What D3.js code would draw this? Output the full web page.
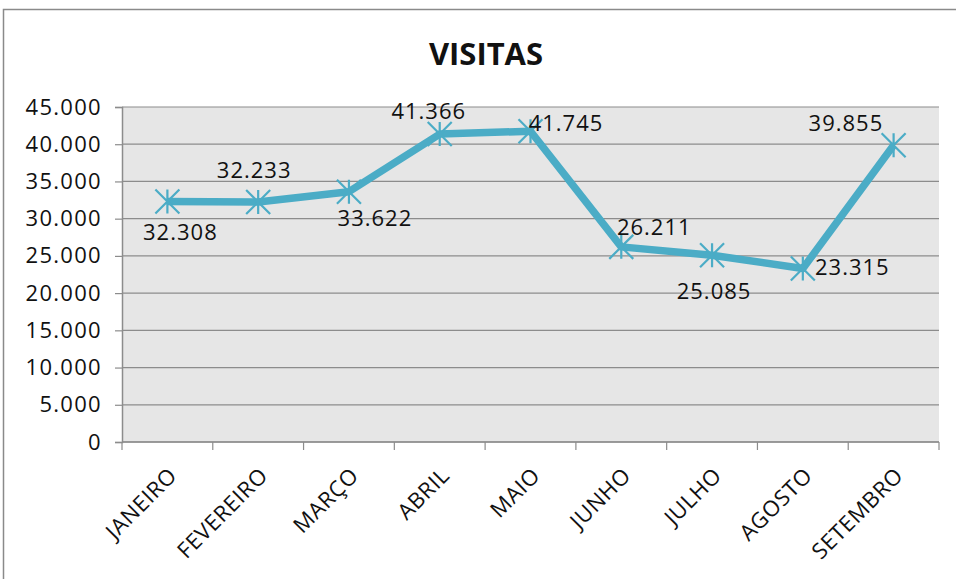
<!DOCTYPE html>
<html>
<head>
<meta charset="utf-8">
<script src="https://cdn.jsdelivr.net/npm/d3@7"></script>
<style>
  body { margin: 0; background: #fff; }
  text { font-family: "Open Sans", sans-serif; fill: #111; }
</style>
</head>
<body>
<div id="chart"></div>
<script>
// data
var months = ["JANEIRO", "FEVEREIRO", "MARÇO", "ABRIL", "MAIO", "JUNHO", "JULHO", "AGOSTO", "SETEMBRO"];
var visits = [32308, 32233, 33622, 41366, 41745, 26211, 25085, 23315, 39855];
var yTicks = [0, 5000, 10000, 15000, 20000, 25000, 30000, 35000, 40000, 45000];

// where each value label sits, relative to its point (centre of the text)
var labelOffsets = [[13, 31], [-4, -32], [26, 26], [-11, -23], [35.5, -8.5], [33, -19.5], [2, 36], [49.5, -1.7], [-47.7, -22]];

var svgWidth = 956;
var svgHeight = 579;
var margin = { top: 107, right: 17, bottom: 137, left: 122 };
var width = svgWidth - margin.left - margin.right;
var height = svgHeight - margin.top - margin.bottom;
var lineColor = "#4bacc6";

var ptBR = d3.formatLocale({ decimal: ",", thousands: ".", grouping: [3], currency: ["", ""] });
var fmt = ptBR.format(",.0f");

var svg = d3.select("#chart")
    .append("svg")
    .attr("width", svgWidth)
    .attr("height", svgHeight);

// chart area border
svg.append("rect")
    .attr("x", 3.5)
    .attr("y", 9.5)
    .attr("width", 980)
    .attr("height", 600)
    .attr("fill", "#fff")
    .attr("stroke", "#8a8a8a")
    .attr("stroke-width", 1.5);

svg.append("text")
    .attr("x", 486)
    .attr("y", 65)
    .attr("text-anchor", "middle")
    .style("font-size", "31px")
    .style("font-weight", "bold")
    .text("VISITAS");

var chartGroup = svg.append("g")
    .attr("transform", `translate(${margin.left}, ${margin.top})`);

var xScale = d3.scaleBand()
    .domain(months)
    .range([0, width])
    .padding(0);

var yScale = d3.scaleLinear()
    .domain([0, 45000])
    .range([height, 0]);

chartGroup.append("rect")
    .attr("width", width)
    .attr("height", height)
    .attr("fill", "#e6e6e6");

// gridlines
chartGroup.selectAll(".grid")
    .data(yTicks)
    .enter()
    .append("line")
    .attr("x1", 0)
    .attr("x2", width)
    .attr("y1", d => yScale(d))
    .attr("y2", d => yScale(d))
    .attr("stroke", "#8c8c8c")
    .attr("stroke-width", 1.2);

var leftAxis = d3.axisLeft(yScale)
    .tickValues(yTicks)
    .tickFormat(fmt)
    .tickSize(7)
    .tickPadding(13);

var yAxis = chartGroup.append("g").call(leftAxis);
yAxis.select(".domain").attr("stroke", "#8c8c8c").attr("stroke-width", 1.5);
yAxis.selectAll(".tick line").attr("stroke", "#8c8c8c").attr("stroke-width", 1.2);
yAxis.selectAll("text")
    .style("font-size", "22px")
    .style("letter-spacing", "1.3px")
    .style("font-family", "Open Sans, sans-serif")
    .attr("fill", "#111");

// bottom axis: ticks on the band edges
var xAxis = chartGroup.append("g")
    .attr("transform", `translate(0, ${height})`);

xAxis.append("line")
    .attr("x1", 0)
    .attr("x2", width)
    .attr("stroke", "#8c8c8c")
    .attr("stroke-width", 1.5);

var edges = months.map(d => xScale(d)).concat([width]);
xAxis.selectAll(".xtick")
    .data(edges)
    .enter()
    .append("line")
    .attr("x1", d => d)
    .attr("x2", d => d)
    .attr("y1", 0)
    .attr("y2", 8)
    .attr("stroke", "#8c8c8c")
    .attr("stroke-width", 1.2);

xAxis.selectAll(".xlabel")
    .data(months)
    .enter()
    .append("text")
    .attr("text-anchor", "end")
    .attr("transform", d => `translate(${xScale(d) + xScale.bandwidth() / 2 + 11}, 35) rotate(-45)`)
    .style("font-size", "22px")
    .style("letter-spacing", "0.6px")
    .text(d => d);

var cx = (d, i) => xScale(months[i]) + xScale.bandwidth() / 2;

var line = d3.line()
    .x((d, i) => cx(d, i))
    .y(d => yScale(d));

chartGroup.append("path")
    .datum(visits)
    .attr("d", line)
    .attr("fill", "none")
    .attr("stroke", lineColor)
    .attr("stroke-width", 7.5)
    .attr("stroke-linejoin", "round");

// star markers
var r = 12;
var markers = chartGroup.selectAll(".marker")
    .data(visits)
    .enter()
    .append("path")
    .attr("d", (d, i) => {
        var x = cx(d, i), y = yScale(d);
        return `M${x},${y - r}L${x},${y + r}` +
            `M${x - r},${y - r}L${x + r},${y + r}` +
            `M${x - r},${y + r}L${x + r},${y - r}`;
    })
    .attr("stroke", lineColor)
    .attr("stroke-width", 2.2)
    .attr("fill", "none");

chartGroup.selectAll(".val")
    .data(visits)
    .enter()
    .append("text")
    .attr("text-anchor", "middle")
    .attr("x", (d, i) => cx(d, i) + labelOffsets[i][0])
    .attr("y", (d, i) => yScale(d) + labelOffsets[i][1] + 8)
    .style("font-size", "22px")
    .style("letter-spacing", "1px")
    .text(d => fmt(d));
</script>
</body>
</html>
